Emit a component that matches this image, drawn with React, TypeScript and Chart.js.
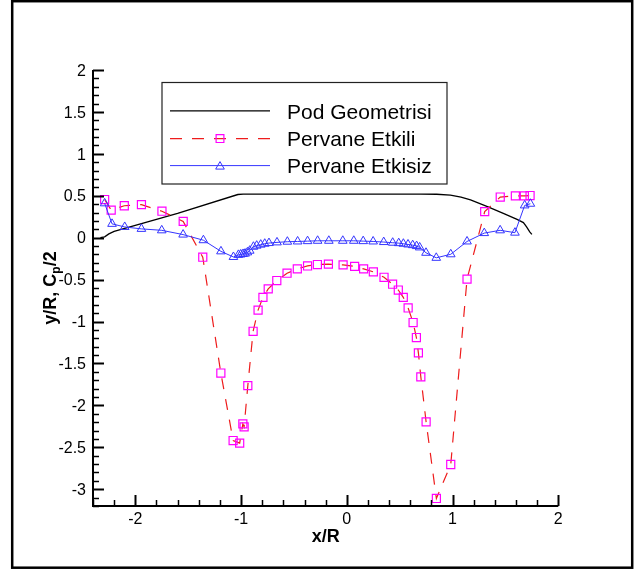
import { useEffect, useRef } from "react";
import { Chart, registerables } from "chart.js";

Chart.register(...registerables);

// ---- data ----
const podX = [-2.33, -2.29, -2.25, -2.2, -1.6, -1.03, -0.98, 0, 0.7, 0.85, 0.98, 1.08, 1.17, 1.33, 1.48, 1.61, 1.67, 1.7, 1.73, 1.75];
const podY = [0, 0.01, 0.045, 0.075, 0.29, 0.515, 0.52, 0.52, 0.52, 0.518, 0.508, 0.485, 0.45, 0.37, 0.29, 0.219, 0.18, 0.13, 0.07, 0.04];

const etkiliX = [-2.29, -2.228, -2.104, -1.942, -1.748, -1.547, -1.362, -1.191, -1.075, -1.013, -0.983, -0.971, -0.936, -0.886, -0.839, -0.793, -0.743, -0.662, -0.565, -0.468, -0.371, -0.278, -0.174, -0.035, 0.074, 0.159, 0.251, 0.352, 0.433, 0.487, 0.534, 0.58, 0.627, 0.658, 0.677, 0.7, 0.75, 0.847, 0.983, 1.137, 1.304, 1.451, 1.594, 1.679, 1.733];
const etkiliY = [0.455, 0.329, 0.381, 0.394, 0.316, 0.194, -0.233, -1.614, -2.419, -2.45, -2.221, -2.256, -1.764, -1.116, -0.864, -0.711, -0.611, -0.511, -0.424, -0.372, -0.337, -0.32, -0.316, -0.324, -0.342, -0.372, -0.407, -0.472, -0.555, -0.624, -0.711, -0.838, -1.012, -1.191, -1.373, -1.66, -2.196, -3.11, -2.705, -0.494, 0.311, 0.485, 0.498, 0.498, 0.503];

const etkisizX = [-2.29, -2.22, -2.1, -1.942, -1.75, -1.548, -1.356, -1.19, -1.072, -1.025, -1.003, -0.981, -0.962, -0.94, -0.918, -0.883, -0.852, -0.814, -0.776, -0.736, -0.66, -0.562, -0.465, -0.371, -0.276, -0.17, -0.038, 0.066, 0.155, 0.249, 0.349, 0.434, 0.491, 0.535, 0.579, 0.623, 0.66, 0.689, 0.749, 0.846, 0.983, 1.137, 1.3, 1.45, 1.59, 1.682, 1.736];
const etkisizY = [0.41, 0.165, 0.128, 0.105, 0.088, 0.037, -0.03, -0.163, -0.23, -0.205, -0.2, -0.194, -0.19, -0.175, -0.155, -0.108, -0.095, -0.083, -0.072, -0.064, -0.056, -0.048, -0.045, -0.041, -0.037, -0.037, -0.037, -0.037, -0.041, -0.045, -0.052, -0.06, -0.065, -0.072, -0.081, -0.089, -0.1, -0.116, -0.18, -0.24, -0.198, -0.045, 0.055, 0.088, 0.06, 0.385, 0.405];

const xTickValues = [-2, -1, 0, 1, 2];
const xTickLabels = ["-2", "-1", "0", "1", "2"];
const yTickValues = [2, 1.5, 1, 0.5, 0, -0.5, -1, -1.5, -2, -2.5, -3];
const yTickLabels = ["2", "1.5", "1", "0.5", "0", "-0.5", "-1", "-1.5", "-2", "-2.5", "-3"];
const legendLabels = ["Pod Geometrisi", "Pervane Etkili", "Pervane Etkisiz"];

const X_MIN = -2.4, X_MAX = 2, Y_MIN = -3.2, Y_MAX = 2;
const X_MINOR = 0.2, Y_MINOR = 0.1;

const RED = "#ee1c1c";
const MAGENTA = "#ff00ff";
const BLUE = "#3535ff";
const FONT = "'Liberation Sans', Arial, sans-serif";

const toPts = (xs: number[], ys: number[]) => xs.map((x, i) => ({ x, y: ys[i] }));

function drawSquare(ctx: CanvasRenderingContext2D, x: number, y: number, r: number) {
  const s = Math.SQRT1_2 * r;
  ctx.beginPath();
  ctx.rect(x - s, y - s, 2 * s, 2 * s);
  ctx.stroke();
}
function drawTriangle(ctx: CanvasRenderingContext2D, x: number, y: number, r: number) {
  ctx.beginPath();
  let a = 0;
  ctx.moveTo(x + Math.sin(a) * r, y - Math.cos(a) * r);
  a += (2 * Math.PI) / 3;
  ctx.lineTo(x + Math.sin(a) * r, y - Math.cos(a) * r);
  a += (2 * Math.PI) / 3;
  ctx.lineTo(x + Math.sin(a) * r, y - Math.cos(a) * r);
  ctx.closePath();
  ctx.stroke();
}

const decorPlugin = {
  id: "decor",
  beforeDraw(chart: any) {
    const ctx = chart.ctx as CanvasRenderingContext2D;
    ctx.save();
    ctx.fillStyle = "#fff";
    ctx.fillRect(0, 0, chart.width, chart.height);
    ctx.restore();
  },
  afterDraw(chart: any) {
    const ctx = chart.ctx as CanvasRenderingContext2D;
    const xs = chart.scales.x;
    const ys = chart.scales.y;
    const area = chart.chartArea;
    ctx.save();

    // outer frame
    ctx.strokeStyle = "#000";
    ctx.lineWidth = 2.5;
    ctx.strokeRect(12.2, 1.2, 620, 566.5);

    // axes lines
    ctx.lineWidth = 2;
    ctx.beginPath();
    ctx.moveTo(area.left, area.top);
    ctx.lineTo(area.left, area.bottom);
    ctx.lineTo(area.right, area.bottom);
    ctx.stroke();

    // y ticks (inward)
    const nY = Math.round((Y_MAX - Y_MIN) / Y_MINOR);
    for (let i = 0; i <= nY; i++) {
      const v = Y_MIN + i * Y_MINOR;
      const major = yTickValues.some((t) => Math.abs(t - v) < 1e-6);
      const py = Math.round(ys.getPixelForValue(v)) + 0.5;
      ctx.lineWidth = major ? 2 : 1.5;
      ctx.beginPath();
      ctx.moveTo(area.left, py);
      ctx.lineTo(area.left + (major ? 11 : 6), py);
      ctx.stroke();
    }
    // x ticks (inward)
    const nX = Math.round((X_MAX - X_MIN) / X_MINOR);
    for (let i = 0; i <= nX; i++) {
      const v = X_MIN + i * X_MINOR;
      const major = xTickValues.some((t) => Math.abs(t - v) < 1e-6);
      const px = Math.round(xs.getPixelForValue(v)) + 0.5;
      ctx.lineWidth = major ? 2 : 1.5;
      ctx.beginPath();
      ctx.moveTo(px, area.bottom);
      ctx.lineTo(px, area.bottom - (major ? 11 : 6));
      ctx.stroke();
    }

    // tick labels
    ctx.fillStyle = "#000";
    ctx.font = `16px ${FONT}`;
    ctx.textAlign = "right";
    ctx.textBaseline = "alphabetic";
    yTickValues.forEach((v, i) => {
      ctx.fillText(yTickLabels[i], area.left - 7, ys.getPixelForValue(v) + 5.7);
    });
    ctx.textAlign = "center";
    xTickValues.forEach((v, i) => {
      ctx.fillText(xTickLabels[i], xs.getPixelForValue(v), area.bottom + 18);
    });

    // axis titles
    ctx.font = `bold 18px ${FONT}`;
    ctx.textAlign = "center";
    ctx.fillText("x/R", (area.left + area.right) / 2, 542);

    ctx.save();
    ctx.translate(55.5, (area.top + area.bottom) / 2);
    ctx.rotate(-Math.PI / 2);
    ctx.textAlign = "left";
    const big = `bold 18px ${FONT}`;
    const small = `bold 12px ${FONT}`;
    const t1 = "y/R, C", t2 = "p", t3 = "/2";
    ctx.font = big;
    const w1 = ctx.measureText(t1).width;
    const w3 = ctx.measureText(t3).width;
    ctx.font = small;
    const w2 = ctx.measureText(t2).width;
    let sx = -(w1 + w2 + w3) / 2;
    ctx.font = big;
    ctx.fillText(t1, sx, 0);
    sx += w1;
    ctx.font = small;
    ctx.fillText(t2, sx, 4);
    sx += w2;
    ctx.font = big;
    ctx.fillText(t3, sx, 0);
    ctx.restore();

    // legend
    ctx.lineWidth = 1.2;
    ctx.strokeStyle = "#222";
    ctx.strokeRect(162, 82.5, 285, 101.5);
    const rows = [110.9, 138.6, 165.6];
    const lx0 = 170, lx1 = 270, lmx = 220;
    // row 1
    ctx.strokeStyle = "#000";
    ctx.lineWidth = 1.2;
    ctx.beginPath();
    ctx.moveTo(lx0, rows[0]);
    ctx.lineTo(lx1, rows[0]);
    ctx.stroke();
    // row 2
    ctx.strokeStyle = RED;
    ctx.lineWidth = 1.2;
    ctx.setLineDash([12, 10]);
    ctx.beginPath();
    ctx.moveTo(lx0, rows[1]);
    ctx.lineTo(lx1, rows[1]);
    ctx.stroke();
    ctx.setLineDash([]);
    ctx.strokeStyle = MAGENTA;
    ctx.lineWidth = 1.2;
    drawSquare(ctx, lmx, rows[1], 5.5);
    // row 3
    ctx.strokeStyle = BLUE;
    ctx.lineWidth = 1;
    ctx.beginPath();
    ctx.moveTo(lx0, rows[2]);
    ctx.lineTo(lx1, rows[2]);
    ctx.stroke();
    drawTriangle(ctx, lmx, rows[2] + 1, 5);

    ctx.fillStyle = "#000";
    ctx.font = `21px ${FONT}`;
    ctx.textAlign = "left";
    legendLabels.forEach((t, i) => {
      ctx.fillText(t, 287, rows[i] + 7.8);
    });

    ctx.restore();
  },
};

export default function App() {
  const ref = useRef<HTMLCanvasElement | null>(null);
  useEffect(() => {
    document.body.style.margin = "0";
    const canvas = ref.current;
    if (!canvas) return;
    const chart = new Chart(canvas, {
      type: "scatter",
      data: {
        datasets: [
          {
            label: legendLabels[2],
            data: toPts(etkisizX, etkisizY),
            showLine: true,
            borderColor: BLUE,
            borderWidth: 1,
            pointStyle: "triangle",
            pointRadius: 5,
            pointBorderColor: BLUE,
            pointBackgroundColor: "rgba(0,0,0,0)",
            pointBorderWidth: 1,
            order: 1,
          },
          {
            label: legendLabels[1],
            data: toPts(etkiliX, etkiliY),
            showLine: true,
            borderColor: RED,
            borderWidth: 1.2,
            borderDash: [11, 10],
            pointStyle: "rect",
            pointRadius: 5.7,
            pointBorderColor: MAGENTA,
            pointBackgroundColor: "rgba(0,0,0,0)",
            pointBorderWidth: 1.2,
            order: 2,
          },
          {
            label: legendLabels[0],
            data: toPts(podX, podY),
            showLine: true,
            borderColor: "#000",
            borderWidth: 1.3,
            pointRadius: 0,
            order: 3,
          },
        ],
      },
      options: {
        animation: false,
        responsive: false,
        devicePixelRatio: 1,
        layout: { padding: { left: 93, right: 81.7, top: 70, bottom: 68 } },
        plugins: { legend: { display: false }, tooltip: { enabled: false } },
        scales: {
          x: { type: "linear", min: X_MIN, max: X_MAX, display: false },
          y: { type: "linear", min: Y_MIN, max: Y_MAX, display: false },
        },
      },
      plugins: [decorPlugin],
    });
    return () => chart.destroy();
  }, []);
  return (
    <div style={{ position: "absolute", left: 0, top: 0, width: 640, height: 574 }}>
      <canvas ref={ref} width={640} height={574} style={{ display: "block" }} />
    </div>
  );
}
